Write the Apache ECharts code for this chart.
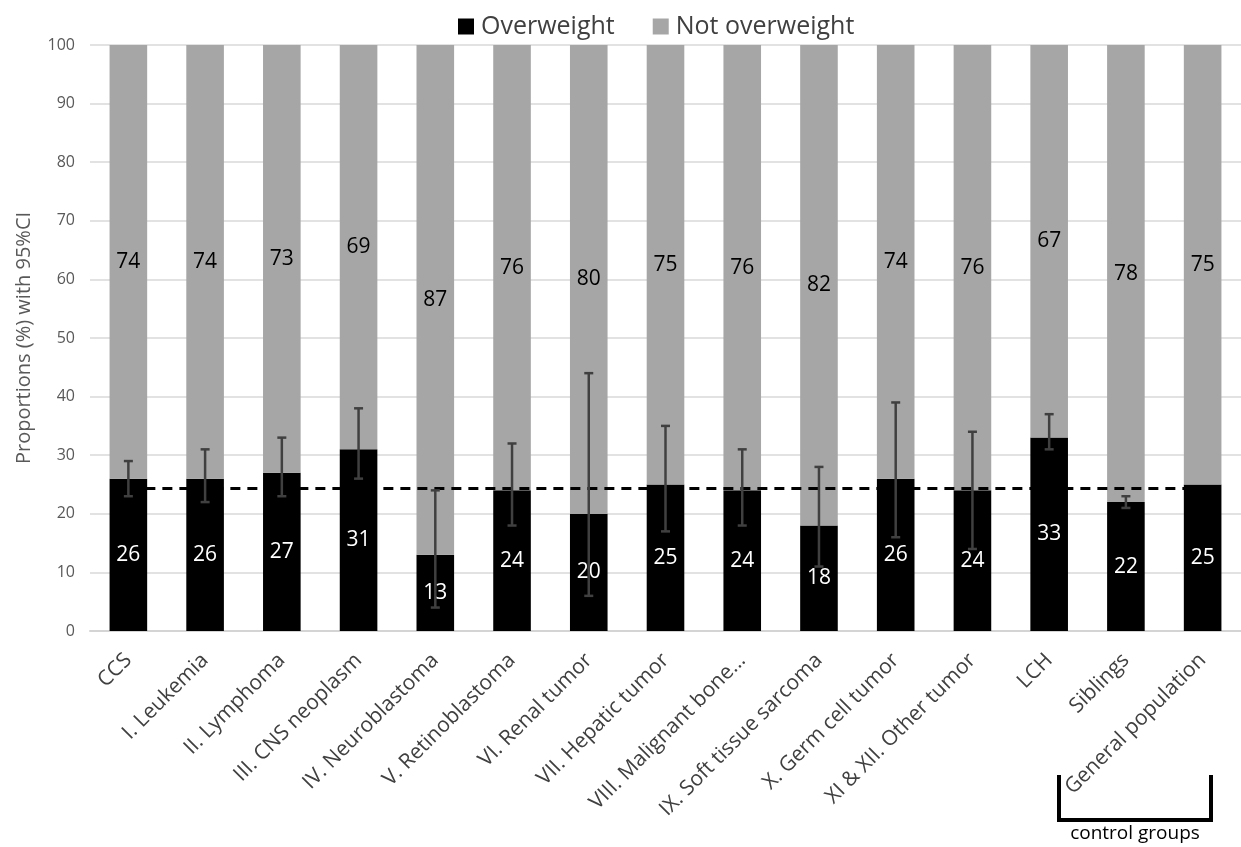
<!DOCTYPE html>
<html>
<head>
<meta charset="utf-8">
<script src="https://cdn.jsdelivr.net/npm/echarts@6/dist/echarts.min.js"></script>
<style>
  html, body { margin: 0; padding: 0; background: #fff; overflow: hidden; }
  #chart { width: 1241px; height: 847px; }
</style>
</head>
<body>
<div id="chart"></div>
<script>
// Diagnostic groups and the two control groups
const categories = [
  'CCS', 'I. Leukemia', 'II. Lymphoma', 'III. CNS neoplasm', 'IV. Neuroblastoma',
  'V. Retinoblastoma', 'VI. Renal tumor', 'VII. Hepatic tumor', 'VIII. Malignant bone...',
  'IX. Soft tissue sarcoma', 'X. Germ cell tumor', 'XI & XII. Other tumor', 'LCH',
  'Siblings', 'General population'
];
// Proportions (%)
const overweight    = [26, 26, 27, 31, 13, 24, 20, 25, 24, 18, 26, 24, 33, 22, 25];
const notOverweight = [74, 74, 73, 69, 87, 76, 80, 75, 76, 82, 74, 76, 67, 78, 75];
// 95% confidence interval of the overweight proportion (null = none shown)
const ciLower = [23, 22, 23, 26, 4, 18, 6, 17, 18, 11, 16, 14, 31, 21, null];
const ciUpper = [29, 31, 33, 38, 24, 32, 44, 35, 31, 28, 39, 34, 37, 23, null];
// General population reference level (%)
const referenceLevel = 24.4;
const yTicks = { min: 0, max: 100, interval: 10 };

const chart = echarts.init(document.getElementById('chart'));
const font = 'Open Sans';

const ciData = categories.map((c, i) => [i, ciLower[i], ciUpper[i]])
  .filter(d => d[1] != null);

chart.setOption({
  animation: false,
  textStyle: { fontFamily: font },
  legend: {
    top: 9,
    left: 453,
    itemWidth: 16,
    itemHeight: 16,
    itemGap: 38,
    icon: 'rect',
    textStyle: { fontFamily: font, fontSize: 25, color: '#404040', padding: [0, 0, 0, 2] },
    data: ['Overweight', 'Not overweight']
  },
  // the plot area runs on past the right edge of the canvas
  grid: { left: 90, top: 45, width: 1164, height: 586, containLabel: false },
  xAxis: {
    type: 'category',
    data: categories,
    axisLine: { lineStyle: { color: '#d4d4d4', width: 2 } },
    axisTick: { show: false },
    axisLabel: {
      rotate: 45,
      interval: 0,
      margin: 26,
      fontFamily: font,
      fontSize: 21,
      color: '#404040'
    }
  },
  yAxis: {
    type: 'value',
    min: yTicks.min,
    max: yTicks.max,
    interval: yTicks.interval,
    name: 'Proportions (%) with 95%CI',
    nameLocation: 'middle',
    nameGap: 56,
    nameTextStyle: { fontFamily: font, fontSize: 20, color: '#595959' },
    axisLine: { show: false },
    axisTick: { show: false },
    axisLabel: { fontFamily: font, fontSize: 16, color: '#595959', margin: 15 },
    splitLine: { lineStyle: { color: '#d9d9d9', width: 1.5 } }
  },
  series: [
    {
      name: 'Overweight',
      type: 'bar',
      stack: 'total',
      barWidth: '49%',
      itemStyle: { color: '#000000' },
      label: {
        show: true,
        position: 'inside',
        color: '#ffffff',
        fontFamily: font,
        fontSize: 21
      },
      data: overweight,
      z: 2
    },
    {
      name: 'Not overweight',
      type: 'bar',
      stack: 'total',
      itemStyle: { color: '#a6a6a6' },
      label: {
        show: true,
        position: 'inside',
        color: '#000000',
        fontFamily: font,
        fontSize: 21
      },
      data: notOverweight,
      z: 2,
      markLine: {
        silent: true,
        symbol: 'none',
        label: { show: false },
        lineStyle: { color: '#000000', type: [10, 7], width: 3 },
        data: [[
          { coord: [0, referenceLevel] },
          { coord: [categories.length - 1, referenceLevel] }
        ]],
        z: 3
      }
    },
    {
      name: 'CI',
      type: 'custom',
      z: 5,
      data: ciData,
      encode: { x: 0, y: [1, 2] },
      renderItem: function (params, api) {
        const x = api.value(0);
        const lo = api.coord([x, api.value(1)]);
        const hi = api.coord([x, api.value(2)]);
        const half = 4.5;
        const style = { stroke: '#404040', lineWidth: 2.5 };
        return {
          type: 'group',
          children: [
            { type: 'line', shape: { x1: lo[0], y1: lo[1], x2: hi[0], y2: hi[1] }, style },
            { type: 'line', shape: { x1: lo[0] - half, y1: lo[1], x2: lo[0] + half, y2: lo[1] }, style },
            { type: 'line', shape: { x1: hi[0] - half, y1: hi[1], x2: hi[0] + half, y2: hi[1] }, style }
          ]
        };
      }
    }
  ],
  graphic: [
    {
      type: 'polyline',
      shape: { points: [[1059, 775], [1059, 820], [1211, 820], [1211, 775]] },
      style: { stroke: '#000000', lineWidth: 4, fill: null }
    },
    {
      type: 'text',
      x: 1135,
      y: 834,
      style: {
        text: 'control groups',
        font: '19px "Open Sans"',
        fill: '#000000',
        align: 'center',
        verticalAlign: 'middle'
      }
    }
  ]
});
</script>
</body>
</html>
